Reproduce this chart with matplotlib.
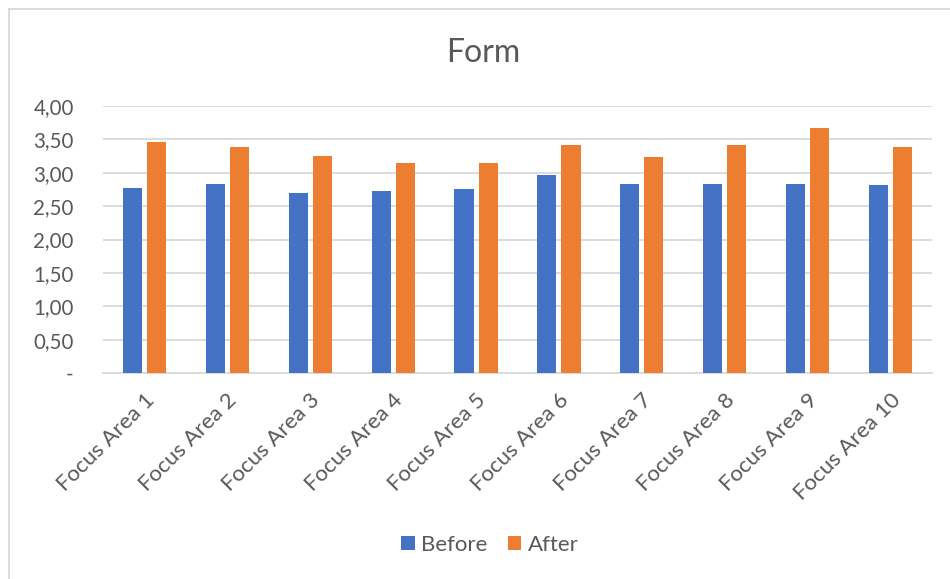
import matplotlib
matplotlib.use("Agg")
import matplotlib.pyplot as plt
import numpy as np
from matplotlib.lines import Line2D
from matplotlib.patches import Patch

plt.rcParams['font.family'] = ['Lato', 'DejaVu Sans']

categories = [f"Focus Area {i}" for i in range(1, 11)]
before = [2.77, 2.83, 2.70, 2.73, 2.76, 2.97, 2.83, 2.83, 2.83, 2.81]
after = [3.46, 3.39, 3.25, 3.15, 3.15, 3.42, 3.23, 3.42, 3.67, 3.39]
y_ticks = [0, 0.5, 1.0, 1.5, 2.0, 2.5, 3.0, 3.5, 4.0]
y_labels = ["-", "0,50", "1,00", "1,50", "2,00", "2,50", "3,00", "3,50", "4,00"]

BLUE = "#4472C4"
ORANGE = "#ED7D31"
GRID = "#D9D9D9"
TEXT = "#595959"

W, H = 950, 579
fig = plt.figure(figsize=(W / 100, H / 100), dpi=100)
ax = fig.add_axes([103 / W, (H - 373) / H, (932 - 103) / W, (373 - 106) / H])

x = np.arange(len(categories))
bw = 0.23
off = 0.145
ax.bar(x - off, before, bw, color=BLUE, zorder=3)
ax.bar(x + off, after, bw, color=ORANGE, zorder=3)

ax.set_xlim(-0.5, len(categories) - 0.5)
ax.set_ylim(0, 4)
ax.set_yticks(y_ticks)
ax.set_yticklabels(y_labels)
ax.yaxis.grid(True, color=GRID, lw=1.3, zorder=0)
ax.set_axisbelow(True)
for s in ["top", "right", "left"]:
    ax.spines[s].set_visible(False)
ax.spines["bottom"].set_color(GRID)
ax.spines["bottom"].set_linewidth(1.3)
ax.tick_params(axis="y", length=0, pad=21, labelsize=14.8, labelcolor=TEXT)
ax.tick_params(axis="x", length=0, pad=17, labelsize=16, labelcolor=TEXT)
ax.set_xticks(x + 0.08)
ax.set_xticklabels(categories, rotation=45, ha="right", va="center",
                   rotation_mode="anchor")

fig.text(483 / W, 1 - 53 / H, "Form", ha="center", va="center",
         fontsize=23, color=TEXT)

handles = [Patch(facecolor=BLUE, label="Before"),
           Patch(facecolor=ORANGE, label="After")]
fig.legend(handles=handles, loc="center", bbox_to_anchor=(490 / W, 1 - 545 / H),
           ncol=2, frameon=False, fontsize=16, handlelength=0.6,
           handleheight=0.6, handletextpad=0.3, columnspacing=0.9,
           labelcolor=TEXT)

# chart frame
fig.add_artist(Line2D([9 / W, 9 / W], [0, 1 - 9 / H], transform=fig.transFigure,
                      color=GRID, lw=1.3))
fig.add_artist(Line2D([9 / W, 1], [1 - 9 / H, 1 - 9 / H], transform=fig.transFigure,
                      color=GRID, lw=1.3))

fig.savefig("out.png", dpi=100)
